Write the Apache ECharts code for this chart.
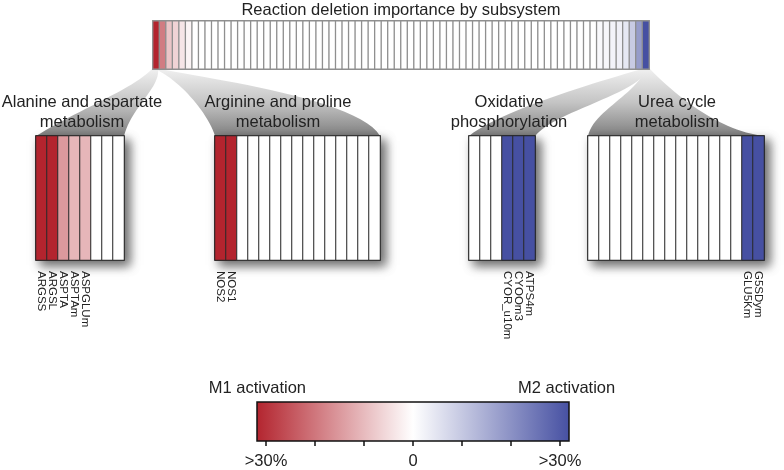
<!DOCTYPE html>
<html><head><meta charset="utf-8">
<script src="https://cdn.jsdelivr.net/npm/echarts@6/dist/echarts.min.js"></script>
<style>html,body{margin:0;padding:0;background:#fff}#c{width:784px;height:470px}</style>
</head><body><div id="c"></div>
<script>
// ---------------- DATA ----------------
const titleText = 'Reaction deletion importance by subsystem';
const topValues = [
  -30, -18, -8, -6, -3.5, -1.5,
  0, 0, 0, 0, 0, 0, 0, 0, 0, 0,
  0, 0, 0, 0, 0, 0, 0, 0, 0, 0,
  0, 0, 0, 0, 0, 0, 0, 0, 0, 0,
  0, 0, 0, 0, 0, 0, 0, 0, 0, 0,
  0, 0, 0, 0, 0, 0, 0, 0, 0, 0,
  0, 0, 0, 0, 0, 0, 0, 0, 0, 0,
  0, 0,
  1, 1.5, 2, 2.5, 4, 9, 17, 30
];
const groupNames = [
  'Alanine and aspartate\nmetabolism',
  'Arginine and proline\nmetabolism',
  'Oxidative\nphosphorylation',
  'Urea cycle\nmetabolism'
];
const alanineValues = [-30, -30, -14, -10, -10, 0, 0, 0];
const alanineLabels = ['ARGSS', 'ARGSL', 'ASPTA', 'ASPTAm', 'ASPGLUm', '', '', ''];
const arginineValues = [-30, -30, 0, 0, 0, 0, 0, 0, 0, 0, 0, 0, 0, 0, 0];
const arginineLabels = ['NOS2', 'NOS1', '', '', '', '', '', '', '', '', '', '', '', '', ''];
const oxidativeValues = [0, 0, 0, 30, 30, 30];
const oxidativeLabels = ['', '', '', 'CYOR_u10m', 'CYOOm3', 'ATPS4m'];
const ureaValues = [0, 0, 0, 0, 0, 0, 0, 0, 0, 0, 0, 0, 0, 0, 30, 30];
const ureaLabels = ['', '', '', '', '', '', '', '', '', '', '', '', '', '', 'GLU5Km', 'G5SDym'];
const colorbarTicks = [-30, -20, -10, 0, 10, 20, 30];
const colorbarTickLabels = ['>30%', '', '', '0', '', '', '>30%'];
const colorbarEndNames = ['M1 activation', 'M2 activation'];
const scaleMin = -30, scaleMax = 30;

// ---------------- LAYOUT / STYLE ----------------
const FONT = '"Liberation Sans", Arial, Helvetica, sans-serif';
const TXT = '#222';
const RED = '#b3242e', WHITE = '#ffffff', BLUE = '#4650a2';
const topRect = {left: 153, top: 21, width: 496, height: 48};
const groupRects = [
  {left: 36, top: 136, width: 88, height: 124},
  {left: 215, top: 136, width: 165, height: 124},
  {left: 469, top: 136, width: 66, height: 124},
  {left: 588, top: 136, width: 176, height: 124}
];
const groupLabelX = [82, 278, 509, 677];
const cbRect = {left: 266, top: 402, width: 294, height: 39};

const groupValues = [alanineValues, arginineValues, oxidativeValues, ureaValues];
const groupLabels = [alanineLabels, arginineLabels, oxidativeLabels, ureaLabels];

function linGrad(x2, y2, stops) {
  return {type: 'linear', x: 0, y: 0, x2: x2, y2: y2, global: false,
    colorStops: stops.map(s => ({offset: s[0], color: s[1]}))};
}

const chart = echarts.init(document.getElementById('c'), null, {renderer: 'canvas'});

const grids = [], xAxes = [], yAxes = [], series = [];
// top strip
grids.push(Object.assign({show: true, backgroundColor: '#fff', borderColor: '#8a8a8a', borderWidth: 1.2}, topRect));
xAxes.push({gridIndex: 0, type: 'category', data: topValues.map((_, k) => String(k)), show: false});
yAxes.push({gridIndex: 0, type: 'category', data: ['r'], show: false});
series.push({type: 'heatmap', xAxisIndex: 0, yAxisIndex: 0, data: topValues.map((v, k) => [k, 0, v]),
  itemStyle: {borderColor: '#8f8f8f', borderWidth: 1.3}, emphasis: {disabled: true}, silent: true});
// groups
groupValues.forEach((vals, g) => {
  const gi = g + 1, labels = groupLabels[g];
  grids.push(Object.assign({show: true, backgroundColor: '#fff', borderColor: '#111', borderWidth: 1.5,
    shadowColor: 'rgba(0,0,0,0.6)', shadowBlur: 10, shadowOffsetX: 5, shadowOffsetY: 5}, groupRects[g]));
  xAxes.push({gridIndex: gi, type: 'category', data: vals.map((_, k) => String(k)),
    axisLine: {show: false}, axisTick: {show: false}, splitLine: {show: false},
    axisLabel: {show: true, interval: 0, rotate: -90, margin: 11, fontSize: 11.5, fontFamily: FONT, color: TXT,
      formatter: (v, idx) => labels[idx]}});
  yAxes.push({gridIndex: gi, type: 'category', data: ['r'], show: false});
  series.push({type: 'heatmap', xAxisIndex: gi, yAxisIndex: gi, data: vals.map((v, k) => [k, 0, v]),
    itemStyle: {borderColor: '#2a2a2a', borderWidth: 1}, emphasis: {disabled: true}, silent: true});
});
// colorbar
grids.push(Object.assign({show: false}, cbRect));
xAxes.push({gridIndex: 5, type: 'value', min: scaleMin, max: scaleMax, interval: 10,
  axisLine: {show: false}, splitLine: {show: false},
  axisTick: {show: true, length: 5, lineStyle: {color: '#111', width: 1.5}},
  axisLabel: {show: true, margin: 12, fontSize: 16.5, fontFamily: FONT, color: TXT,
    formatter: v => { const i = colorbarTicks.indexOf(v); return i >= 0 ? colorbarTickLabels[i] : ''; }}});
yAxes.push({gridIndex: 5, type: 'value', min: 0, max: 1, show: false});
series.push({type: 'custom', xAxisIndex: 5, yAxisIndex: 5, silent: true, clip: false,
  data: [[scaleMin, scaleMax]],
  renderItem: (params, api) => {
    const p0 = api.coord([api.value(0), 0]);
    const p1 = api.coord([api.value(1), 1]);
    const pad = 9;
    return {type: 'rect',
      shape: {x: p0[0] - pad, y: p1[1], width: p1[0] - p0[0] + 2 * pad, height: p0[1] - p1[1]},
      style: {fill: linGrad(1, 0, [[0, RED], [0.5, WHITE], [1, BLUE]]),
        stroke: '#111', lineWidth: 1.5}};
  }});

// funnels (connectors from strip ends to group boxes)
const yT = topRect.top + topRect.height;
const cellW = topRect.width / topValues.length;
const xL = topRect.left, xR = topRect.left + topRect.width;
const yB = groupRects[0].top;
function bez(p0, c1, c2, p3, n) {
  const pts = [];
  for (let i = 0; i <= n; i++) {
    const t = i / n, u = 1 - t;
    pts.push([
      u*u*u*p0[0] + 3*u*u*t*c1[0] + 3*u*t*t*c2[0] + t*t*t*p3[0],
      u*u*u*p0[1] + 3*u*u*t*c1[1] + 3*u*t*t*c2[1] + t*t*t*p3[1]]);
  }
  return pts;
}
function funnel(t1, t2, b1, b2, c) {
  const left = bez([t1, yT], c[0], c[1], [b1, yB], 24);
  const right = bez([b2, yB], c[2], c[3], [t2, yT], 24);
  return {type: 'polygon', z: -1, silent: true, shape: {points: left.concat(right)},
    style: {fill: linGrad(0, 1, [[0, '#f0f0f0'], [0.5, '#c4c4c4'], [1, '#808080']]), stroke: 'none'}};
}
const gA = groupRects[0], gB = groupRects[1], gC = groupRects[2], gD = groupRects[3];
const graphics = [
  funnel(xL - 1, xL + cellW * 0.8, gA.left, gA.left + gA.width,
    [[xL - 20, yT + 20], [gA.left + 40, yB - 25], [gA.left + gA.width + 8, yB - 30], [xL + cellW, yT + 20]]),
  funnel(xL + cellW * 0.3, xL + cellW, gB.left, gB.left + gB.width,
    [[xL + 25, yT + 10], [gB.left - 8, yB - 25], [gB.left + gB.width - 20, yB - 36], [xL + 60, yT + 10]]),
  funnel(xR - cellW, xR - cellW * 0.2, gC.left, gC.left + gC.width,
    [[xR - 50, yT + 12], [gC.left + 30, yB - 25], [gC.left + gC.width + 20, yB - 25], [xR - 10, yT + 25]]),
  funnel(xR - cellW * 0.6, xR + 1, gD.left, gD.left + gD.width,
    [[xR - 12, yT + 25], [gD.left + 5, yB - 25], [gD.left + gD.width - 35, yB - 4], [xR + 40, yT + 40]]),
  {type: 'text', z: 10, silent: true, style: {text: titleText, x: xL + topRect.width / 2, y: 10,
    textAlign: 'center', textVerticalAlign: 'middle', font: `16.5px ${FONT}`, fill: TXT}}
];
groupNames.forEach((name, g) => {
  graphics.push({type: 'text', z: 10, silent: true, style: {text: name, x: groupLabelX[g], y: 112,
    textAlign: 'center', textVerticalAlign: 'middle', font: `16.5px ${FONT}`, fill: TXT, lineHeight: 20}});
});
graphics.push({type: 'text', z: 10, silent: true, style: {text: colorbarEndNames[0], x: 306, y: 388,
  textAlign: 'right', textVerticalAlign: 'middle', font: `16.5px ${FONT}`, fill: TXT}});
graphics.push({type: 'text', z: 10, silent: true, style: {text: colorbarEndNames[1], x: 518, y: 388,
  textAlign: 'left', textVerticalAlign: 'middle', font: `16.5px ${FONT}`, fill: TXT}});

chart.setOption({
  animation: false,
  backgroundColor: '#fff',
  grid: grids, xAxis: xAxes, yAxis: yAxes,
  visualMap: {show: false, type: 'continuous', min: scaleMin, max: scaleMax, dimension: 2,
    seriesIndex: [0, 1, 2, 3, 4], inRange: {color: [RED, WHITE, BLUE]}},
  series: series,
  graphic: graphics
});
</script></body></html>
